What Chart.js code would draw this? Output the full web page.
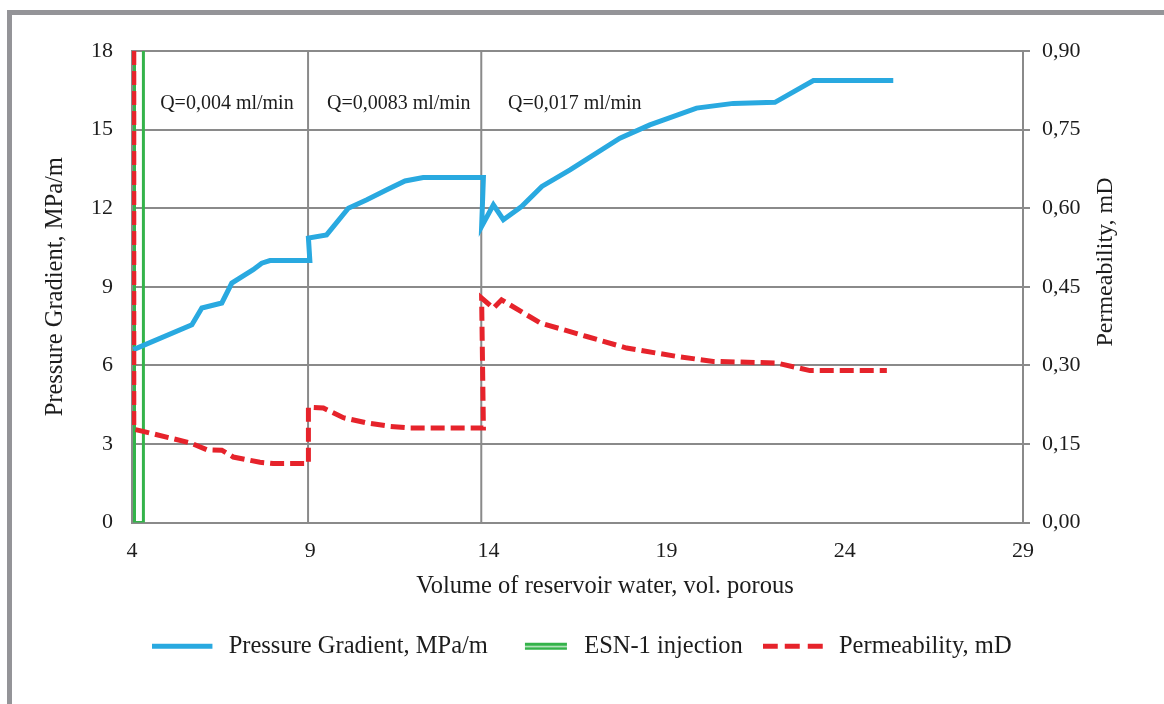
<!DOCTYPE html>
<html><head><meta charset="utf-8">
<script src="https://cdn.jsdelivr.net/npm/chart.js@4.4.1/dist/chart.umd.min.js"></script>
<style>
html,body{margin:0;padding:0;background:#fff;width:1164px;height:704px;overflow:hidden;}
#wrap{position:relative;width:1164px;height:704px;}
#frame{position:absolute;left:7px;top:10px;width:1300px;height:900px;border-top:5px solid #949498;border-left:5px solid #949498;box-sizing:border-box;}
canvas{position:absolute;left:0;top:0;}
</style></head><body>
<div id="wrap"><div id="frame"></div><canvas id="c" width="1164" height="704"></canvas></div>
<script>
// ---- data ----
const xTicks = [4, 9, 14, 19, 24, 29];
const pressureX = [4.04,5.68,5.96,6.52,6.80,7.40,7.64,7.87,8.99,8.95,9.46,10.07,10.59,11.15,11.66,12.17,13.86,13.81,14.14,14.42,14.93,15.50,16.29,17.69,18.53,19.84,20.87,22.04,23.12,25.36];
const pressureY = [6.6,7.55,8.19,8.38,9.14,9.65,9.9,10.0,10.0,10.86,10.98,12.0,12.32,12.7,13.04,13.17,13.17,11.3,12.13,11.56,12.06,12.83,13.46,14.67,15.18,15.82,16.0,16.04,16.87,16.87];
const permX = [4.05,4.05,4.31,5.63,6.10,6.52,6.84,7.59,7.96,8.95,8.95,9.37,9.93,10.59,11.24,11.80,13.86,13.81,14.14,14.37,15.45,16.76,17.88,19.28,20.31,22.09,23.02,25.18];
const permY = [0.90,0.178,0.174,0.152,0.139,0.138,0.125,0.115,0.1125,0.1125,0.22,0.2185,0.20,0.19,0.1835,0.1805,0.1805,0.4285,0.409,0.425,0.381,0.355,0.333,0.317,0.3075,0.3045,0.29,0.29];
const esnX = [4.07, 4.07, 4.32, 4.32];
const esnY = [18, 0, 0, 18];
const stageX = [8.94, 13.8];
const stageLabels = ["Q=0,004 ml/min", "Q=0,0083 ml/min", "Q=0,017 ml/min"];
const stageLabelX = [4.79, 9.47, 14.55];
const seriesNames = ["Pressure Gradient, MPa/m", "ESN-1 injection", "Permeability, mD"];
const xTitle = "Volume of reservoir water, vol. porous";

// ---- styles ----
const BLUE = '#29a9e0', GREEN = '#34b34a', RED = '#e6232b', GRID = '#8a8a8a', TXT = '#1c1c1c';
const FONT = "'Liberation Serif', 'Times New Roman', serif";

function pts(xs, ys) { return xs.map((x, i) => ({x: x, y: ys[i]})); }

function marker(kind) {
  const c = document.createElement('canvas');
  c.width = 64; c.height = 10;
  const g = c.getContext('2d');
  if (kind === 'blue') { g.fillStyle = BLUE; g.fillRect(0, 2, 60, 5); }
  else if (kind === 'green') {
    g.fillStyle = GREEN; g.fillRect(17, 1, 42, 7);
    g.fillStyle = '#c4eacc'; g.fillRect(17, 4, 42, 1.5);
  } else {
    g.fillStyle = RED;
    [0, 22, 45].forEach(x => g.fillRect(x, 2, 15, 5));
  }
  return c;
}
const markers = [marker('blue'), marker('green'), marker('red')];

const datasets = [
  {label: seriesNames[0], data: pts(pressureX, pressureY), borderColor: BLUE, borderWidth: 5, yAxisID: 'y', order: 2},
  {label: seriesNames[1], data: pts(esnX, esnY), borderColor: GREEN, borderWidth: 3, yAxisID: 'y', order: 3},
  {label: seriesNames[2], data: pts(permX, permY), borderColor: RED, borderWidth: 5, borderDash: [14, 6], yAxisID: 'y1', order: 1},
];
stageX.forEach(sx => datasets.push({label: '', data: [{x: sx, y: 0}, {x: sx, y: 18}], borderColor: GRID, borderWidth: 2, yAxisID: 'y', order: 10}));

const textPlugin = {
  id: 'texts',
  afterDraw(chart) {
    const ctx = chart.ctx, xs = chart.scales.x, ys = chart.scales.y;
    ctx.save();
    ctx.fillStyle = TXT;
    ctx.font = '20px ' + FONT;
    ctx.textBaseline = 'middle';
    ctx.textAlign = 'left';
    stageLabels.forEach((t, i) => ctx.fillText(t, xs.getPixelForValue(stageLabelX[i]), ys.getPixelForValue(15.97)));
    ctx.font = '24.5px ' + FONT;
    ctx.textAlign = 'center';
    ctx.fillText(xTitle, 605, 587);
    ctx.translate(1106, 262);
    ctx.rotate(-Math.PI / 2);
    ctx.font = '24px ' + FONT;
    ctx.fillText(seriesNames[2], 0, 0);
    ctx.restore();
  }
};

new Chart(document.getElementById('c'), {
  type: 'line',
  data: {datasets: datasets},
  options: {
    responsive: false,
    animation: false,
    events: [],
    elements: {point: {radius: 0}, line: {tension: 0, fill: false, borderCapStyle: 'butt'}},
    layout: {padding: {left: 0, right: 0, top: 51, bottom: 35}},
    plugins: {
      tooltip: {enabled: false},
      legend: {
        position: 'bottom',
        labels: {
          usePointStyle: true,
          pointStyleWidth: 64,
          padding: 20,
          color: TXT,
          font: {family: FONT, size: 24.5},
          generateLabels: () => seriesNames.map((n, i) => ({text: n, pointStyle: markers[i], fillStyle: 'rgba(0,0,0,0)', strokeStyle: 'rgba(0,0,0,0)', lineWidth: 0, hidden: false, datasetIndex: i, fontColor: TXT}))
        }
      }
    },
    scales: {
      x: {
        type: 'linear', min: 4, max: 29,
        afterBuildTicks: s => { s.ticks = xTicks.map(v => ({value: v})); },
        afterFit: s => { s.height = 92; },
        grid: {display: false, drawTicks: false},
        border: {display: true, color: GRID, width: 2},
        ticks: {padding: 16, color: TXT, font: {family: FONT, size: 22}, maxRotation: 0},
        title: {display: false}
      },
      y: {
        position: 'left', min: 0, max: 18,
        afterFit: s => { s.width = 132; },
        ticks: {stepSize: 3, padding: 19, color: TXT, font: {family: FONT, size: 22}},
        grid: {color: GRID, lineWidth: 2, drawTicks: false},
        border: {display: true, color: GRID, width: 2},
        title: {display: true, text: seriesNames[0], color: TXT, font: {family: FONT, size: 24.5}, padding: {top: 41, bottom: 0}}
      },
      y1: {
        position: 'right', min: 0, max: 0.9,
        afterFit: s => { s.width = 141; },
        afterBuildTicks: s => { s.ticks = [0, 0.15, 0.3, 0.45, 0.6, 0.75, 0.9].map(v => ({value: v})); },
        ticks: {padding: 12, color: TXT, font: {family: FONT, size: 22}, callback: v => Number(v).toFixed(2).replace('.', ',')},
        grid: {drawOnChartArea: false, drawTicks: true, tickLength: 7, color: GRID, lineWidth: 2},
        border: {display: true, color: GRID, width: 2},
        title: {display: false}
      }
    }
  },
  plugins: [textPlugin]
});
</script>
</body></html>
